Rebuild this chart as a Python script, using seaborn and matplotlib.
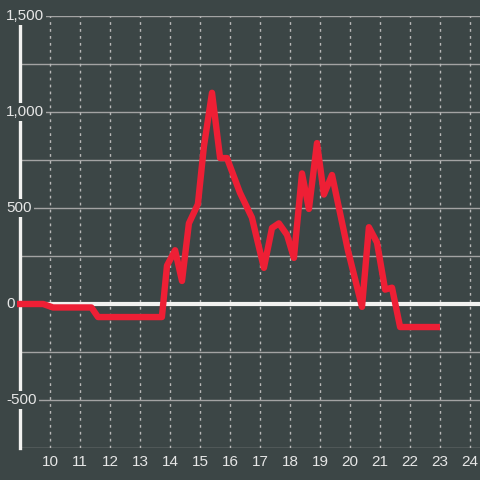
import pandas as pd
import seaborn as sns
import matplotlib
matplotlib.use("Agg")
import matplotlib.pyplot as plt

# hours (x) and values (y)
hours = [8.9, 9.77, 10.1, 11.38, 11.6, 13.73, 13.9, 14.17, 14.4, 14.63, 14.93,
         15.13, 15.4, 15.67, 15.9, 16.33, 16.73, 17.13, 17.4, 17.63, 17.9,
         18.13, 18.4, 18.63, 18.9, 19.13, 19.4, 19.93, 20.4, 20.63, 20.9,
         21.17, 21.4, 21.67, 23.0]
values = [0, 0, -18, -18, -68, -68, 200, 280, 120, 420, 520,
          820, 1100, 760, 760, 580, 450, 188, 396, 420, 360,
          240, 680, 495, 838, 570, 672, 280, -15, 400, 320,
          75, 85, -120, -120]
x_ticks = list(range(10, 25))
y_label_ticks = [1500, 1000, 500, 0, -500]
y_label_text = ["1,500", "1,000", "500", "0", "-500"]

bg = "#3c4646"
fg = "#e6e6e6"

df = pd.DataFrame({"hour": hours, "value": values})

plt.rcParams["font.family"] = ["Liberation Sans", "DejaVu Sans"]
fig = plt.figure(figsize=(4.8, 4.8), dpi=100, facecolor=bg)
ax = fig.add_axes([20 / 480, 32 / 480, 460 / 480, 432 / 480])
ax.set_facecolor(bg)

# grid
for v in range(-750, 1501, 250):
    if v != 0:
        ax.axhline(v, color="#a3a3a3", lw=1, zorder=1)
for t in x_ticks:
    ax.axvline(t, color="#b8b8b8", lw=1, ls=(0, (2, 3)), zorder=1)
ax.axhline(0, color="#f2f2f0", lw=3, zorder=2)

sns.lineplot(x="hour", y="value", data=df, ax=ax, color="#ee1f35", lw=4.6,
             zorder=4, clip_on=False, solid_capstyle="butt")

ax.set_xlim(9, 9 + 460 / 30)
ax.set_ylim(-750, 1500)
ax.set_xlabel("")
ax.set_ylabel("")

for s in ["top", "right", "bottom"]:
    ax.spines[s].set_visible(False)
ax.spines["left"].set_color("#f2f2f0")
ax.spines["left"].set_linewidth(2.4)
ax.spines["left"].set_zorder(3)

ax.set_xticks(x_ticks)
ax.set_xticklabels([str(t) for t in x_ticks], color=fg, fontsize=11)
ax.tick_params(axis="x", length=0, pad=5)
ax.set_yticks([])

for v, lab in zip(y_label_ticks, y_label_text):
    ax.annotate(lab, xy=(0, v), xycoords=("axes fraction", "data"),
                xytext=(-14, 0), textcoords="offset pixels",
                ha="left", va="center", color=fg, fontsize=11, zorder=6,
                annotation_clip=False,
                bbox=dict(facecolor=bg, edgecolor="none", pad=1.5))

fig.savefig("out.png", dpi=100, facecolor=bg)
